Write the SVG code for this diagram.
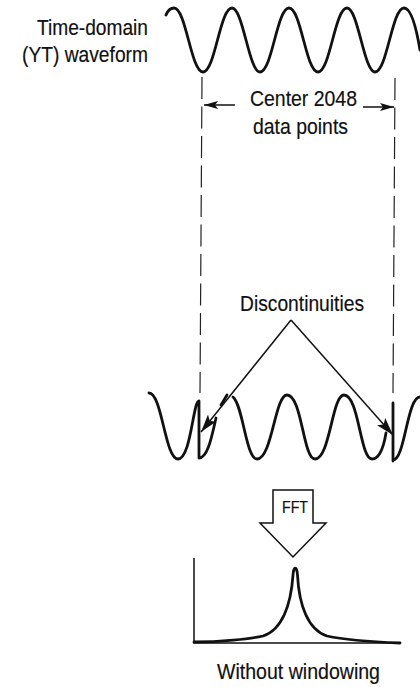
<svg xmlns="http://www.w3.org/2000/svg" width="420" height="687" viewBox="0 0 420 687">
<style>
text{font-family:"Liberation Sans",Arial,sans-serif;font-size:22px;fill:#111;stroke:#111;stroke-width:.2}
.w{fill:none;stroke:#111;stroke-width:2.8;stroke-linecap:round;stroke-linejoin:round}
.d{fill:none;stroke:#222;stroke-width:1.2;stroke-dasharray:22 7.5}
.a{fill:none;stroke:#111;stroke-width:1.5}
.f{font-size:16px}
</style>
<defs>
<marker id="ah" markerUnits="userSpaceOnUse" viewBox="0 0 14 8" refX="14" refY="4" markerWidth="14" markerHeight="8" orient="auto"><path d="M0 0L14 4L0 8L3 4Z" fill="#111"/></marker>
<marker id="ad" markerUnits="userSpaceOnUse" viewBox="0 0 18 11" refX="18" refY="5.5" markerWidth="18" markerHeight="11" orient="auto"><path d="M0 0L18 5.5L0 11L4 5.5Z" fill="#111"/></marker>
</defs>
<rect width="420" height="687" fill="#fff"/>
<g id="label-yt">
<text x="37" y="35" textLength="111" lengthAdjust="spacingAndGlyphs">Time-domain</text>
<text x="22" y="62" textLength="126" lengthAdjust="spacingAndGlyphs">(YT) waveform</text>
</g>
<g id="waveform-top">
<path class="w" d="M166 15C168 10 171 8 174 8C186 8 191 72 203 72C215 72 220 8 232 8C243 8 249 72 260 72C272 72 277 8 289 8C301 8 306 72 318 72C330 72 335 8 347 8C358 8 364 72 375 72C387 72 392 8 404 8C411 8 416 26 420 50"/>
</g>
<g id="label-center">
<text x="250" y="106" textLength="107" lengthAdjust="spacingAndGlyphs">Center 2048</text>
<text x="253" y="134" textLength="95" lengthAdjust="spacingAndGlyphs">data points</text>
</g>
<g id="label-disc"><text x="240" y="311" textLength="124" lengthAdjust="spacingAndGlyphs">Discontinuities</text></g>
<g id="waveform-bottom">
<path class="w" d="M149 393C162 393 165 459 178 459C191 459 193 401 199 401L199 458C208 458 212 435 216 418"/>
<path class="w" d="M221 405L227 395"/>
<path class="w" d="M233 397C243 405 246 459 257 459C272 459 275 395 287 395C302 395 303 459 315 459C330 459 332 395 344 395C359 395 360 459 372 459C380 459 384 445 386 433"/>
<path class="w" d="M393 461L393 403M393 460C405 460 407 397 420 397"/>
</g>
<g id="connectors">
<path class="d" d="M202 77L200 393"/>
<path class="d" d="M395 78L393 393"/>
<path class="a" marker-end="url(#ah)" d="M235 105H204"/>
<path class="a" marker-end="url(#ah)" d="M363 107H394"/>
<path class="a" marker-end="url(#ad)" d="M291 320L201 432"/>
<path class="a" marker-end="url(#ad)" d="M291 320L393 435"/>
</g>
<g id="fft">
<path d="M273 490H313V523H326L293 557L260 523H273Z" fill="#fff" stroke="#111" stroke-width="1.5"/>
<text class="f" x="282" y="513" textLength="26" lengthAdjust="spacingAndGlyphs">FFT</text>
</g>
<g id="spectrum">
<path fill="none" stroke="#111" stroke-width="1.5" d="M194 558V643H400"/>
<path class="w" d="M194 642C220 642 250 639 263 636C282 630 291 605 293 575C293.500 566 297 566 297.500 575C299 605 308 630 327 636C345 640 375 642 400 643"/>
</g>
<g id="caption"><text x="217" y="679" textLength="163" lengthAdjust="spacingAndGlyphs">Without windowing</text></g>
</svg>
